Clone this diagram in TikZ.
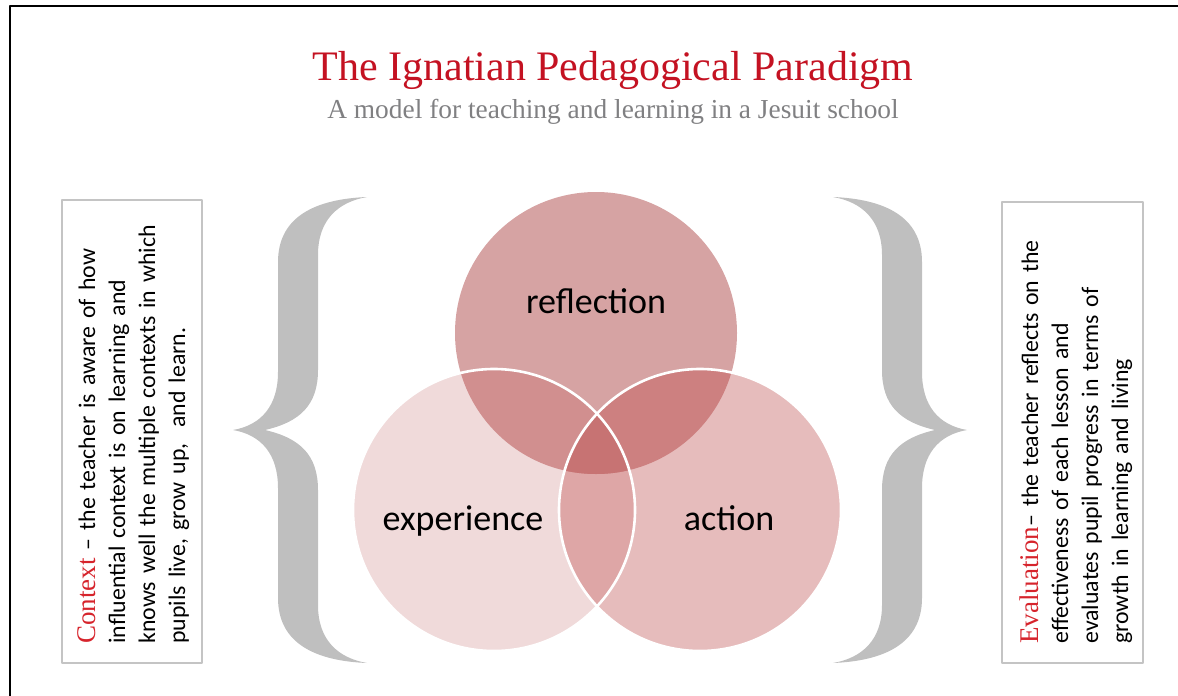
\documentclass[tikz,border=0pt]{standalone}
\usepackage{fontspec}
\setmainfont{Carlito}
\newfontfamily\headfont{Liberation Serif}
\usepackage{xcolor}
\definecolor{titlered}{RGB}{196,18,34}
\definecolor{keyred}{RGB}{214,36,44}
\definecolor{subgray}{RGB}{128,128,130}
\definecolor{bracegray}{RGB}{191,191,191}
\definecolor{boxgray}{RGB}{196,196,196}
\definecolor{reflcol}{RGB}{214,163,163}
\definecolor{expcol}{RGB}{240,218,218}
\definecolor{actcol}{RGB}{230,188,188}
\definecolor{refexpcol}{RGB}{209,143,143}
\definecolor{refactcol}{RGB}{205,128,128}
\definecolor{expactcol}{RGB}{222,166,166}
\definecolor{midcol}{RGB}{199,115,115}

\begin{document}
\begin{tikzpicture}[line cap=round,line join=round,x=0.5pt,y=-0.5pt,
  sidebox/.style={draw=boxgray,line width=0.8pt,line cap=rect},
  sidetext/.style={rotate=90,anchor=base west,inner sep=0pt,text width=240pt,align=left,
    font=\fontsize{11.9}{15}\selectfont},
  vennlabel/.style={anchor=base,inner sep=0pt,text=black,font=\fontsize{18}{22}\selectfont},
  rim/.style={draw=white,line width=1.3pt}]
\useasboundingbox (0,0) rectangle (1178,696);
\draw [line width=1pt,line cap=rect] (10,696) -- (10,6) -- (1178,6);
\node[anchor=base,inner sep=0pt,text=titlered,font=\headfont\fontsize{21}{25}\selectfont] (title) at (613,80) {The Ignatian Pedagogical Paradigm};
\node[anchor=base,inner sep=0pt,text=subgray,font=\headfont\fontsize{13.7}{16}\selectfont] (subtitle) at (613,118) {A model for teaching and learning in a Jesuit school};
\coordinate (refl) at (596,333);
\coordinate (exp) at (494,510);
\coordinate (act) at (700,510);
\foreach \sx/\dx in {1/0,-1/1200}
{
\begin{scope}[shift={(\dx,0)},xscale=\sx]
\fill [bracegray] (367,197) .. controls (318,199) and (278,215) .. (278,262) -- (278,372)
  .. controls (278,405) and (262,425) .. (233,430) .. controls (262,435) and (278,455) .. (278,488)
  -- (278,598) .. controls (278,645) and (318,661) .. (367,663)
  .. controls (338,658) and (318,640) .. (318,605) -- (318,490)
  .. controls (318,455) and (300,438) .. (265,430) .. controls (300,422) and (318,405) .. (318,370)
  -- (318,255) .. controls (318,220) and (338,202) .. (367,197) -- cycle;
\end{scope}
}
\fill [reflcol] (refl) circle (141);
\fill [expcol] (exp) circle (141);
\fill [actcol] (act) circle (141);
\begin{scope}
\clip (exp) circle (141);
\fill [refexpcol] (refl) circle (141);
\fill [expactcol] (act) circle (141);
\end{scope}
\begin{scope}
\clip (act) circle (141);
\fill [refactcol] (refl) circle (141);
\clip (exp) circle (141);
\fill [midcol] (refl) circle (141);
\end{scope}
\draw [rim] (exp) circle (141);
\draw [rim] (act) circle (141);
\node[vennlabel] (reflection) at (596,313) {reflection};
\node[vennlabel] (experience) at (463,530) {experience};
\node[vennlabel] (action) at (729,530) {action};
\draw [sidebox] (62,200) rectangle (202,663);
\draw [sidebox] (1002,202) rectangle (1143,663);
\node[sidetext] (context) at (95,644) {{\headfont\fontsize{13.5}{15}\selectfont\color{keyred}Context} – the teacher is aware of how\\
influential context is on learning and\\
knows well the multiple contexts in which\\
pupils live, grow up,~ and learn.};
\node[sidetext] (evaluation) at (1038,644) {{\headfont\fontsize{13.5}{15}\selectfont\color{keyred}Evaluation}– the teacher reflects on the\\
effectiveness of each lesson and\\
evaluates pupil progress in terms of\\
growth in learning and living};
\end{tikzpicture}
\end{document}
